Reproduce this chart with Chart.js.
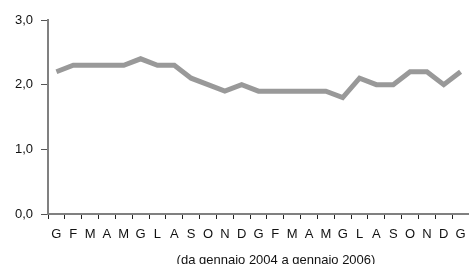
<!DOCTYPE html>
<html>
<head>
<meta charset="utf-8">
<script src="https://cdn.jsdelivr.net/npm/chart.js@4/dist/chart.umd.min.js"></script>
<style>
  html, body { margin: 0; padding: 0; background: #fff; }
  #grafico { width: 469px; height: 264px; }
</style>
</head>
<body>
<div id="grafico"><canvas id="chart_tasso"></canvas></div>
<script>
// Mesi da gennaio 2004 a gennaio 2006
const mesi = ["G","F","M","A","M","G","L","A","S","O","N","D",
              "G","F","M","A","M","G","L","A","S","O","N","D","G"];
const valori = [2.2, 2.3, 2.3, 2.3, 2.3, 2.4, 2.3, 2.3, 2.1, 2.0, 1.9, 2.0,
                1.9, 1.9, 1.9, 1.9, 1.9, 1.8, 2.1, 2.0, 2.0, 2.2, 2.2, 2.0, 2.2];
const yTicks = [0, 1, 2, 3];
const didascalia = "(da gennaio 2004 a gennaio 2006)";

// didascalia sotto l'asse, spostata come nell'originale
const pluginDidascalia = {
  id: "didascalia",
  afterDraw(chart) {
    const ctx = chart.ctx;
    ctx.save();
    ctx.font = "13px 'Liberation Sans', Arial, sans-serif";
    ctx.fillStyle = "#111";
    ctx.textAlign = "center";
    ctx.textBaseline = "middle";
    ctx.fillText(didascalia, 276, 260);
    ctx.restore();
  },
};

function grafica_linea(id) {
  let chart_linea = new Chart(id, {
    type: "line",
    data: {
      labels: mesi,
      datasets: [
        {
          data: valori,
          borderColor: "#999999",
          borderWidth: 5,
          pointRadius: 0,
          tension: 0,
          borderJoinStyle: "miter",
        },
      ],
    },
    options: {
      responsive: true,
      maintainAspectRatio: false,
      animation: false,
      layout: { padding: { top: 20, right: 0, left: 0, bottom: 0 } },
      plugins: {
        legend: { display: false },
        tooltip: { enabled: false },
      },
      scales: {
        x: {
          offset: true,
          grid: {
            offset: true,
            drawOnChartArea: false,
            tickLength: 5,
            tickColor: "#222",
            tickWidth: 1,
          },
          border: { color: "#808080", width: 2 },
          ticks: {
            color: "#111",
            padding: 8,
            maxRotation: 0,
            autoSkip: false,
            font: { family: "'Liberation Sans', Arial", size: 13 },
          },
          afterFit: (scale) => {
            scale.height = 50;
            scale.paddingLeft = 0;
            scale.paddingRight = 0;
          },
        },
        y: {
          min: yTicks[0],
          max: yTicks[yTicks.length - 1],
          afterBuildTicks: (scale) => {
            scale.ticks = yTicks.map((v) => ({ value: v }));
          },
          grid: {
            drawOnChartArea: false,
            tickLength: 7,
            tickColor: "#555",
            tickWidth: 1,
          },
          border: { color: "#808080", width: 2 },
          ticks: {
            color: "#111",
            padding: 8,
            font: { family: "'Liberation Sans', Arial", size: 13 },
            callback: (v) => v.toFixed(1).replace(".", ","),
          },
          afterFit: (scale) => { scale.width = 48; },
        },
      },
    },
    plugins: [pluginDidascalia],
  });
  return chart_linea;
}

grafica_linea(document.getElementById("chart_tasso"));
</script>
</body>
</html>
